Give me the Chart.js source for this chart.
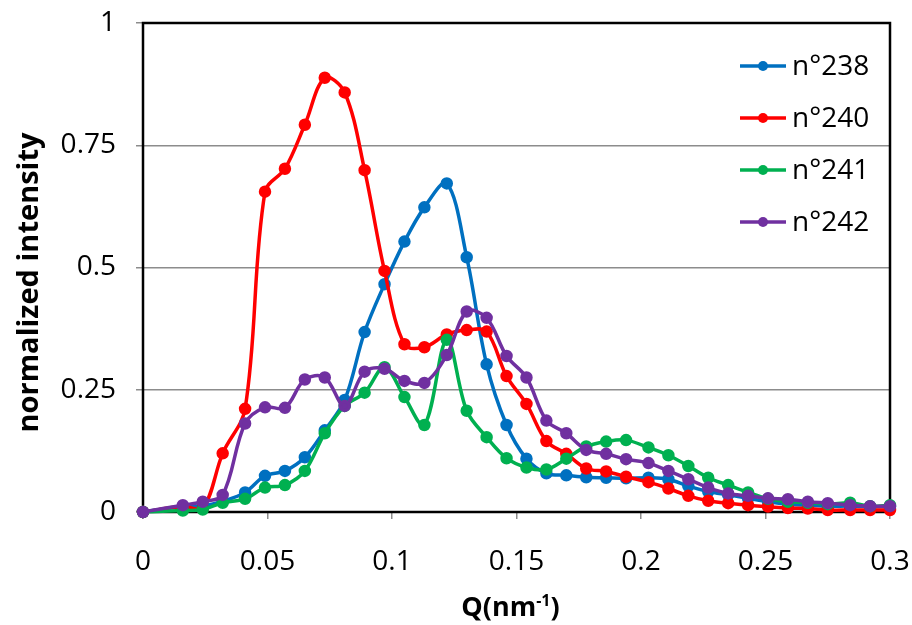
<!DOCTYPE html>
<html>
<head>
<meta charset="utf-8">
<script src="https://cdn.jsdelivr.net/npm/chart.js@4.4.0/dist/chart.umd.min.js"></script>
<style>
  html, body { margin: 0; padding: 0; background: #ffffff; }
  #wrap { width: 912px; height: 625px; }
</style>
</head>
<body>
<div id="wrap"><canvas id="chart" width="912" height="625"></canvas></div>
<script>
// Q values (nm^-1)
const qValues = [0, 0.016, 0.024, 0.032, 0.041, 0.049, 0.057, 0.065, 0.073, 0.081, 0.089, 0.097,
    0.105, 0.113, 0.122, 0.130, 0.138, 0.146, 0.154, 0.162, 0.170, 0.178, 0.186, 0.194,
    0.203, 0.211, 0.219, 0.227, 0.235, 0.243, 0.251, 0.259, 0.267, 0.275, 0.284, 0.292, 0.300];

// séries (intensité normalisée)
const n238 = [0, 0.011, 0.012, 0.022, 0.040, 0.074, 0.084, 0.112, 0.167, 0.229, 0.368, 0.466,
    0.553, 0.623, 0.672, 0.521, 0.302, 0.178, 0.109, 0.079, 0.075, 0.071, 0.070, 0.069,
    0.070, 0.067, 0.053, 0.042, 0.035, 0.028, 0.021, 0.016, 0.014, 0.012, 0.012, 0.011, 0.011];
const n240 = [0, 0.011, 0.007, 0.120, 0.211, 0.655, 0.702, 0.792, 0.888, 0.858, 0.699, 0.493,
    0.343, 0.337, 0.363, 0.372, 0.369, 0.278, 0.221, 0.145, 0.119, 0.089, 0.083, 0.072,
    0.061, 0.048, 0.033, 0.023, 0.018, 0.014, 0.011, 0.008, 0.007, 0.004, 0.004, 0.004, 0.004];
const n241 = [0, 0.003, 0.005, 0.019, 0.027, 0.050, 0.055, 0.084, 0.161, 0.217, 0.244, 0.296,
    0.235, 0.178, 0.352, 0.207, 0.153, 0.110, 0.091, 0.087, 0.109, 0.134, 0.144, 0.147,
    0.132, 0.116, 0.094, 0.070, 0.055, 0.040, 0.027, 0.021, 0.019, 0.016, 0.019, 0.012, 0.014];
const n242 = [0, 0.014, 0.021, 0.035, 0.181, 0.214, 0.213, 0.271, 0.275, 0.217, 0.287, 0.293,
    0.268, 0.264, 0.321, 0.410, 0.397, 0.319, 0.275, 0.187, 0.161, 0.127, 0.119, 0.108,
    0.100, 0.084, 0.067, 0.050, 0.038, 0.033, 0.028, 0.026, 0.021, 0.018, 0.014, 0.012, 0.012];

const seriesLabels = ['n°238', 'n°240', 'n°241', 'n°242'];
const seriesColors = ['#0070C0', '#FF0000', '#00B050', '#7030A0'];
const seriesValues = [n238, n240, n241, n242];

const xTicks = [0, 0.05, 0.1, 0.15, 0.2, 0.25, 0.3];
const yTicks = [0, 0.25, 0.5, 0.75, 1];

const FONT = '"Open Sans", "DejaVu Sans", sans-serif';
const GRID = '#8c8c8c';

// cadre noir autour de la zone de tracé
const frame = {
    id: 'frame',
    beforeDatasetsDraw(chart) {
        const { ctx, chartArea: a } = chart;
        ctx.save();
        ctx.strokeStyle = '#000000';
        ctx.lineWidth = 2.5;
        ctx.strokeRect(a.left, a.top, a.right - a.left, a.bottom - a.top);
        ctx.restore();
    }
};

// légende dans la zone de tracé, en haut à droite
const insideLegend = {
    id: 'insideLegend',
    afterDatasetsDraw(chart) {
        const { ctx, chartArea: a } = chart;
        ctx.save();
        ctx.font = '28px ' + FONT;
        ctx.textBaseline = 'middle';
        ctx.textAlign = 'left';
        seriesLabels.forEach((label, i) => {
            const y = a.top + 43 + i * 52;
            const x0 = a.right - 150;
            ctx.strokeStyle = seriesColors[i];
            ctx.lineWidth = 3.5;
            ctx.beginPath();
            ctx.moveTo(x0, y);
            ctx.lineTo(x0 + 46, y);
            ctx.stroke();
            ctx.fillStyle = seriesColors[i];
            ctx.beginPath();
            ctx.arc(x0 + 23, y, 5, 0, Math.PI * 2);
            ctx.fill();
            ctx.fillStyle = '#000000';
            ctx.fillText(label, x0 + 52, y + 1);
        });
        ctx.restore();
    }
};

// titres des axes (exposant "-1" sur l'axe X)
const axisTitles = {
    id: 'axisTitles',
    afterDraw(chart) {
        const { ctx, chartArea: a } = chart;
        const big = 'bold 27px ' + FONT;
        const small = 'bold 16px ' + FONT;
        const parts = [['Q(nm', big, 0], ['-1', small, -10], [')', big, 0]];
        ctx.save();
        ctx.textBaseline = 'alphabetic';
        ctx.textAlign = 'left';
        ctx.fillStyle = '#000000';
        let total = 0;
        parts.forEach(p => { ctx.font = p[1]; total += ctx.measureText(p[0]).width; });
        let x = (a.left + a.right) / 2 - 6 - total / 2;
        const base = 616;
        parts.forEach(p => {
            ctx.font = p[1];
            ctx.fillText(p[0], x, base + p[2]);
            x += ctx.measureText(p[0]).width;
        });

        // titre Y, vertical
        ctx.translate(30, (a.top + a.bottom) / 2 + 15);
        ctx.rotate(-Math.PI / 2);
        ctx.font = 'bold 29px ' + FONT;
        ctx.textAlign = 'center';
        ctx.textBaseline = 'middle';
        ctx.fillText('normalized intensity', 0, 0);
        ctx.restore();
    }
};

const datasets = seriesLabels.map((label, i) => ({
    label: label,
    data: qValues.map((q, j) => ({ x: q, y: seriesValues[i][j] })),
    borderColor: seriesColors[i],
    backgroundColor: seriesColors[i],
    borderWidth: 3.5,
    pointRadius: 4.5,
    pointHoverRadius: 4.5,
    tension: 0.35,
    clip: false,
    order: 4 - i
}));

new Chart(document.getElementById('chart').getContext('2d'), {
    type: 'line',
    data: { datasets: datasets },
    options: {
        responsive: false,
        animation: false,
        layout: { padding: { left: 0, right: 22, top: 23, bottom: 0 } },
        plugins: {
            legend: { display: false },
            tooltip: { enabled: false }
        },
        scales: {
            x: {
                type: 'linear',
                min: 0,
                max: 0.3,
                afterFit: (s) => {
                    s.height = 113;
                    s.paddingLeft = 0;
                    s.paddingRight = 0;
                },
                afterBuildTicks: (s) => { s.ticks = xTicks.map(v => ({ value: v })); },
                ticks: {
                    color: '#000000',
                    font: { family: FONT, size: 28 },
                    padding: 26,
                    maxRotation: 0,
                    callback: (v) => String(v)
                },
                grid: { drawOnChartArea: false, drawTicks: true, tickLength: 7, color: GRID, lineWidth: 1.5 },
                border: { display: false },
                title: { display: false }
            },
            y: {
                min: 0,
                max: 1,
                afterFit: (s) => {
                    s.width = 143;
                    s.paddingTop = 0;
                    s.paddingBottom = 0;
                },
                afterBuildTicks: (s) => { s.ticks = yTicks.map(v => ({ value: v })); },
                ticks: {
                    color: '#000000',
                    font: { family: FONT, size: 28 },
                    padding: 20,
                    callback: (v) => String(v)
                },
                grid: { color: GRID, lineWidth: 1.5, tickLength: 7, tickColor: GRID },
                border: { display: false },
                title: { display: false }
            }
        }
    },
    plugins: [frame, insideLegend, axisTitles]
});
</script>
</body>
</html>
